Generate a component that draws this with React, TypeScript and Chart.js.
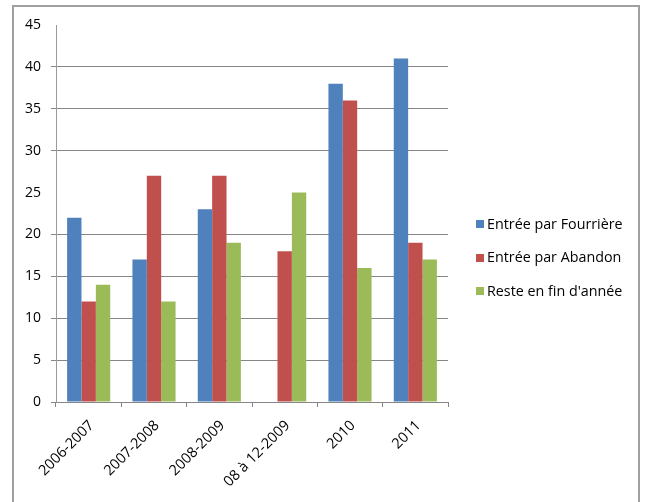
import React, { useEffect, useRef } from "react";
import { Chart, registerables } from "chart.js";

Chart.register(...registerables);

const categories = ["2006-2007", "2007-2008", "2008-2009", "08 à 12-2009", "2010", "2011"];
const seriesNames = ["Entrée par Fourrière", "Entrée par Abandon", "Reste en fin d'année"];
const fourriere = [22, 17, 23, null, 38, 41];
const abandon = [12, 27, 27, 18, 36, 19];
const reste = [14, 12, 19, 25, 16, 17];
const yTicksHiddenGrid = [25, 45];
const yMin = 0;
const yMax = 45;
const yStep = 5;

const colors = ["#4F81BD", "#C0504D", "#9BBB59"];
const FONT = '"Open Sans", "Liberation Sans", sans-serif';

const sideLegend = {
  id: "sideLegend",
  afterDraw(chart: any) {
    const ctx = chart.ctx;
    ctx.save();
    ctx.font = `14.3px ${FONT}`;
    ctx.textBaseline = "middle";
    ctx.textAlign = "left";
    chart.data.datasets.forEach((ds: any, i: number) => {
      const y = 224 + i * 33.5;
      ctx.fillStyle = ds.backgroundColor;
      ctx.fillRect(476, Math.round(y - 4), 8, 8);
      ctx.fillStyle = "#000000";
      ctx.fillText(ds.label, 487, y + 0.5);
    });
    ctx.restore();
  },
};

export default function App() {
  const ref = useRef<HTMLCanvasElement | null>(null);

  useEffect(() => {
    if (!ref.current) return;
    const gridColor = "#868686";
    const chart = new Chart(ref.current, {
      type: "bar",
      data: {
        labels: categories,
        datasets: [
          { label: seriesNames[0], data: fourriere, backgroundColor: colors[0] },
          { label: seriesNames[1], data: abandon, backgroundColor: colors[1] },
          { label: seriesNames[2], data: reste, backgroundColor: colors[2] },
        ],
      },
      options: {
        responsive: false,
        animation: false,
        devicePixelRatio: 1,
        layout: { padding: { left: 20, top: 25, right: 198, bottom: 0 } },
        datasets: {
          bar: { categoryPercentage: 0.66, barPercentage: 1 },
        },
        plugins: {
          legend: { display: false },
          tooltip: { enabled: false },
          title: { display: false },
        },
        scales: {
          x: {
            grid: {
              display: true,
              offset: true,
              drawOnChartArea: false,
              drawTicks: true,
              tickLength: 5,
              color: gridColor,
            },
            border: { display: true, color: gridColor, width: 1 },
            ticks: {
              color: "#000000",
              font: { family: FONT, size: 14.5 },
              minRotation: 45,
              maxRotation: 45,
              padding: 10,
              labelOffset: 3,
              autoSkip: false,
            },
            afterFit(scale: any) {
              scale.height = 100;
            },
          },
          y: {
            min: yMin,
            max: yMax,
            ticks: {
              stepSize: yStep,
              color: "#000000",
              font: { family: FONT, size: 14 },
              padding: 10,
            },
            grid: {
              drawTicks: true,
              tickLength: 5,
              color: (c: any) =>
                c.tick && yTicksHiddenGrid.includes(c.tick.value) ? "rgba(0,0,0,0)" : gridColor,
            },
            border: { display: true, color: "#9a9a9a", width: 1 },
            afterFit(scale: any) {
              scale.width = 36;
            },
          },
        },
      },
      plugins: [sideLegend],
    });
    return () => chart.destroy();
  }, []);

  return (
    <div style={{ position: "absolute", left: 0, top: 0, width: 646, height: 502, background: "#ffffff" }}>
      <div
        style={{
          position: "absolute",
          left: 12,
          top: 5,
          width: 628,
          height: 497,
          boxSizing: "border-box",
          borderTop: "2px solid #a0a0a0",
          borderLeft: "2px solid #a0a0a0",
          borderRight: "2px solid #a0a0a0",
        }}
      />
      <canvas
        ref={ref}
        width={646}
        height={502}
        style={{ position: "absolute", left: 0, top: 0, width: 646, height: 502 }}
      />
    </div>
  );
}
